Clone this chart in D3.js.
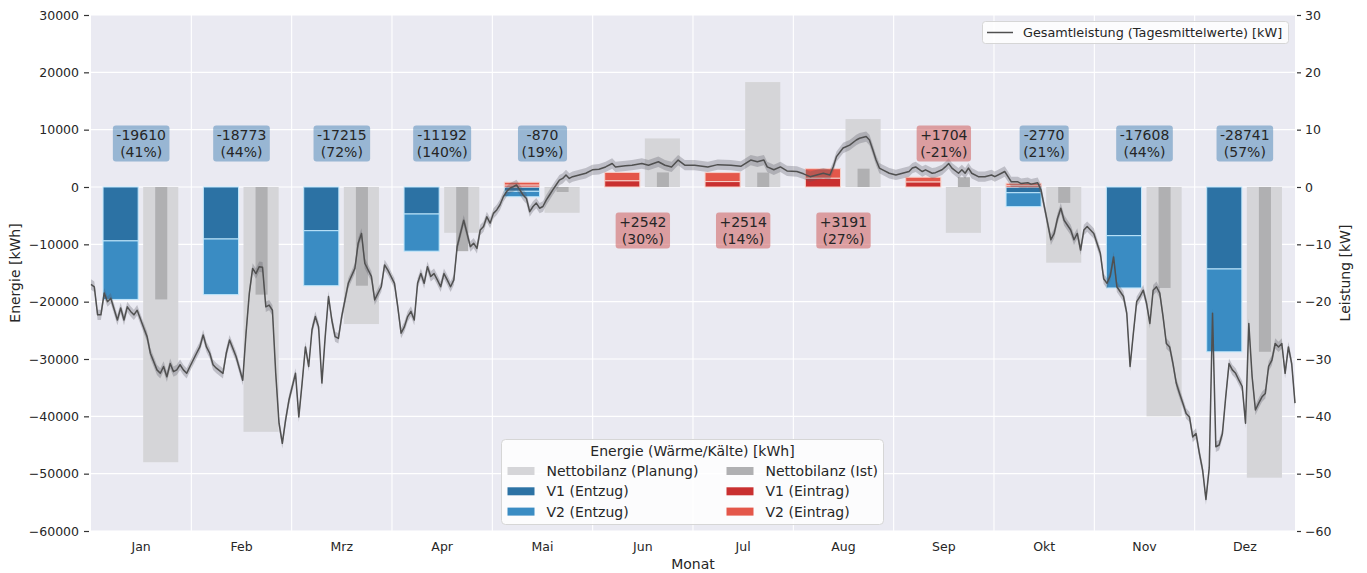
<!DOCTYPE html>
<html><head><meta charset="utf-8">
<script src="https://cdn.jsdelivr.net/npm/d3@7"></script>
<style>
body{margin:0;background:#fff;}
svg{display:block;font-family:"DejaVu Sans",sans-serif;}
</style>
</head><body>
<svg id="chart" width="1367" height="573"></svg>
<script>
// ---------- data ----------
const months = ["Jan","Feb","Mrz","Apr","Mai","Jun","Jul","Aug","Sep","Okt","Nov","Dez"];
const v1Entzug  = [-9400,-9070,-7620,-4710,-750,0,0,0,0,-1000,-8490,-14300];
const v2Entzug  = [-10210,-9703,-9595,-6482,-950,0,0,0,0,-2420,-9118,-14441];
const v1Eintrag = [0,0,0,0,350,1100,950,1550,900,300,0,0];
const v2Eintrag = [0,0,0,0,480,1442,1564,1641,804,350,0,0];
const nettoIst      = [-19610,-18773,-17215,-11192,-870,2542,2514,3191,1704,-2770,-17608,-28741];
const nettoPlanung  = [-48000,-42700,-23900,-7990,-4500,8470,18300,11850,-8000,-13200,-40000,-50700];
const percentPlan   = [41,44,72,140,19,30,14,27,-21,21,44,57];
const energyTicks = [-60000,-50000,-40000,-30000,-20000,-10000,0,10000,20000,30000];
const powerTicks  = [-60,-50,-40,-30,-20,-10,0,10,20,30];

// daily mean total power (kW), sampled day of year
const lineDays = [0,1,2,3,4,5,6,8,9,10,11,12,13,14,16,17,18,20,21,22,23,24,25,26,27,28,29,30,32,33,34,35,36,37,38,40,41,42,44,46,47,48,49,50,51,52,53,54,55,56,57,58,59,60,62,63,64,65,66,67,68,69,70,71,72,73,74,75,76,77,78,80,81,82,83,85,86,88,89,90,92,93,94,95,96,97,98,99,100,101,102,103,104,105,106,107,108,109,110,111,112,113,114,115,116,117,118,119,120,121,122,123,124,125,126,127,128,129,130,131,132,133,134,135,136,137,138,139,140,141,142,143,144,145,146,148,150,152,154,156,158,159,162,164,167,169,172,174,176,178,180,183,187,190,194,197,200,202,204,205,207,209,211,214,216,218,220,222,224,225,226,228,230,232,233,235,236,237,238,239,240,242,244,246,248,249,250,252,253,255,256,258,259,260,261,263,264,265,266,267,269,271,273,274,276,277,278,279,281,282,284,285,287,288,289,290,291,292,293,294,295,297,298,299,300,301,302,303,304,306,307,308,309,310,311,313,314,315,316,317,318,319,320,321,322,323,324,325,326,327,328,329,330,331,332,333,334,335,336,337,338,339,340,341,342,343,344,345,346,347,348,349,350,351,352,353,354,355,356,357,358,359,360,361,362,363,364,365];
const lineKW = [-17,-17.4,-22.3,-22.3,-18.5,-20,-19.4,-23.2,-21.1,-23.2,-20.9,-21.7,-22.3,-21.5,-24.6,-26.1,-29,-31.9,-32.5,-31.3,-33.1,-30.8,-32.2,-31.9,-31,-31.9,-32.5,-31.3,-29,-27.9,-25.8,-27.9,-29,-31,-31.6,-32.5,-29,-26.7,-29.6,-33.7,-25.5,-18.5,-14.2,-15.1,-13.9,-14,-20.9,-20.6,-21.5,-32.5,-41.2,-44.7,-40.6,-37.2,-32.5,-40.1,-34.2,-27.9,-31.3,-24.9,-22.6,-24.4,-34.2,-26.1,-19.1,-23.2,-26.1,-26.4,-22.6,-19.7,-16.8,-14.2,-9.8,-8.1,-13.3,-15.6,-19.7,-17.4,-13.6,-14.5,-16.8,-20.9,-25.5,-24.4,-22.6,-21.7,-23.2,-16.8,-15.1,-16.8,-13.9,-15.6,-15.1,-16.2,-17.4,-15.1,-16.2,-17.4,-16.2,-10.4,-8.1,-5.8,-8.1,-10.4,-9.8,-10.7,-7.5,-6.9,-5.2,-6.3,-4.6,-4,-3.1,-1.7,-0.8,-0.2,0.05,0.35,-0.5,-1.4,-2,-4.3,-3.4,-2.8,-3.7,-3.4,-2.3,-1.4,-0.5,0.35,1.2,1.5,2.1,1.5,1.8,2.1,2.4,3,3.1,3.5,4.1,3.5,3.7,3.8,4.1,3.8,4.4,3.8,3.5,4.7,3.8,3.8,3.5,3.9,3.8,3.6,4.7,4.4,4.7,3.5,3,3.5,2.8,2.7,2.3,1.8,2.1,2.4,2.1,3.5,5.3,6.8,7.3,8.2,8.5,8.8,8.2,6.5,4.7,3.3,3,2.4,2.1,2.4,2.7,3.3,3.5,2.7,3,2.4,2.5,3,3.5,4.1,3.3,2.4,3,2.4,3.3,2.4,1.8,1.8,2.1,1.8,2.4,2.7,1.8,0.9,0.9,0.6,0.75,0.5,0.75,-0.5,-3.4,-6.3,-9.2,-8.1,-5.5,-3.7,-5.8,-7.5,-9.2,-8.1,-11,-7.5,-6.9,-7.5,-8.1,-11.6,-16,-16.8,-15.5,-12.2,-17.4,-19.1,-22,-31.3,-25.5,-20,-19.1,-18,-20.3,-23.8,-18,-17.4,-18.5,-22.6,-27.3,-27.9,-30.8,-34.2,-36,-37.7,-39.5,-40.1,-43.6,-43,-46.4,-49.4,-54.5,-49,-22,-45.3,-45,-43,-36.6,-30.8,-31.9,-32.5,-33.7,-34.8,-41.2,-23.8,-33.1,-38.9,-37.7,-36.6,-36,-31.3,-30.2,-27.3,-27.9,-27.3,-32.5,-27.9,-30.8,-37.7];
const ciHalfWidthKW = 0.9;

// ---------- layout ----------
const W = 1367, H = 573;
const M = {left: 91, right: 1295, top: 15, bottom: 531};
const C = {
  bg: "#eaeaf2", grid: "#ffffff", text: "#262626",
  plan: "#d5d5d8", ist: "#b0b0b2",
  v1Entzug: "#2c72a4", v2Entzug: "#3a8cc3",
  v1Eintrag: "#c93030", v2Eintrag: "#e4574a",
  boxNeg: "rgba(70,130,180,0.5)", boxPos: "rgba(205,92,92,0.55)",
  line: "#505050", band: "rgba(90,90,100,0.3)"
};

const svg = d3.select("#chart");
svg.append("rect").attr("width", W).attr("height", H).attr("fill", "#fff");

const x = d3.scaleBand().domain(months).range([M.left, M.right]).padding(0);
const bw = x.bandwidth();
const xDay = d3.scaleLinear().domain([0, 365]).range([M.left, M.right]);
const y = d3.scaleLinear().domain([-60000, 30000]).range([M.bottom, M.top]);
const yR = d3.scaleLinear().domain([-60, 30]).range([M.bottom, M.top]);

// plot background
svg.append("rect").attr("x", M.left).attr("y", M.top)
  .attr("width", M.right - M.left).attr("height", M.bottom - M.top).attr("fill", C.bg);

// grid
const grid = svg.append("g");
grid.selectAll("line.h").data(energyTicks).join("line")
  .attr("x1", M.left).attr("x2", M.right)
  .attr("y1", d => y(d)).attr("y2", d => y(d))
  .attr("stroke", C.grid).attr("stroke-width", 1.1);
grid.selectAll("line.v").data(months.slice(1)).join("line")
  .attr("x1", d => x(d)).attr("x2", d => x(d))
  .attr("y1", M.top).attr("y2", M.bottom)
  .attr("stroke", C.grid).attr("stroke-width", 1.1);

// planned net balance
const bars = svg.append("g");
bars.selectAll("rect.plan").data(months).join("rect")
  .attr("x", d => x(d) + 0.52 * bw).attr("width", 0.35 * bw)
  .attr("y", (d, i) => y(Math.max(0, nettoPlanung[i])))
  .attr("height", (d, i) => Math.abs(y(nettoPlanung[i]) - y(0)))
  .attr("fill", C.plan);
// actual net balance
bars.selectAll("rect.ist").data(months).join("rect")
  .attr("x", d => x(d) + 0.64 * bw).attr("width", 0.12 * bw)
  .attr("y", (d, i) => y(Math.max(0, nettoIst[i])))
  .attr("height", (d, i) => Math.abs(y(nettoIst[i]) - y(0)))
  .attr("fill", C.ist);

// stacked V1/V2 bars
const segs = [];
months.forEach((m, i) => {
  const push = (from, to, color, edge) => { if (to !== from) segs.push({m, from, to, color, edge}); };
  push(0, v1Entzug[i], C.v1Entzug, "#bfe6fb");
  push(v1Entzug[i], v1Entzug[i] + v2Entzug[i], C.v2Entzug, "#bfe6fb");
  push(0, v1Eintrag[i], C.v1Eintrag, "#f7cfc8");
  push(v1Eintrag[i], v1Eintrag[i] + v2Eintrag[i], C.v2Eintrag, "#f7cfc8");
});
bars.selectAll("rect.seg").data(segs).join("rect")
  .attr("x", d => x(d.m) + 0.12 * bw).attr("width", 0.35 * bw)
  .attr("y", d => y(Math.max(d.from, d.to)))
  .attr("height", d => Math.abs(y(d.to) - y(d.from)))
  .attr("fill", d => d.color)
  .attr("stroke", d => d.edge).attr("stroke-width", 1);

// power line with confidence band
const pts = lineDays.map((d, i) => ({day: d, kw: lineKW[i]}));
svg.append("path").datum(pts)
  .attr("d", d3.area().x(d => xDay(d.day)).y0(d => yR(d.kw - ciHalfWidthKW)).y1(d => yR(d.kw + ciHalfWidthKW)))
  .attr("fill", C.band);
svg.append("path").datum(pts)
  .attr("d", d3.line().x(d => xDay(d.day)).y(d => yR(d.kw)))
  .attr("fill", "none").attr("stroke", C.line).attr("stroke-width", 1.5).attr("stroke-linejoin", "round");

// annotation boxes
const labelOffset = 7600;
const ann = svg.append("g").attr("font-size", "14px").attr("fill", C.text);
months.forEach((m, i) => {
  const cx = x(m) + bw / 2;
  const cy = y(nettoPlanung[i] < 0 ? labelOffset : -labelOffset);
  const g = ann.append("g");
  const rect = g.append("rect");
  const t1 = g.append("text").attr("x", cx).attr("y", cy - 8.3).attr("text-anchor", "middle")
    .attr("dominant-baseline", "central")
    .text((nettoIst[i] > 0 ? "+" : "") + nettoIst[i]);
  const t2 = g.append("text").attr("x", cx).attr("y", cy + 8.3).attr("text-anchor", "middle")
    .attr("dominant-baseline", "central")
    .text("(" + percentPlan[i] + "%)");
  const w = Math.max(t1.node().getComputedTextLength(), t2.node().getComputedTextLength()) + 7;
  rect.attr("x", cx - w / 2).attr("y", cy - 18).attr("width", w).attr("height", 36)
    .attr("rx", 3).attr("fill", nettoIst[i] < 0 ? C.boxNeg : C.boxPos);
});

// axes
const fmt = d => d < 0 ? "\u2212" + Math.abs(d) : String(d);
const axL = svg.append("g").attr("transform", `translate(${M.left - 2},0)`)
  .call(d3.axisLeft(y).tickValues(energyTicks).tickSize(5).tickPadding(5).tickFormat(fmt));
const axR = svg.append("g").attr("transform", `translate(${M.right + 2},0)`)
  .call(d3.axisRight(yR).tickValues(powerTicks).tickSize(4).tickPadding(4).tickFormat(fmt));
const axB = svg.append("g").attr("transform", `translate(0,${M.bottom})`)
  .call(d3.axisBottom(x).tickSize(0).tickPadding(11));
[axL, axR, axB].forEach(a => {
  a.select(".domain").remove();
  a.selectAll("text").attr("font-size", "12.5px").attr("fill", C.text).attr("font-family", "DejaVu Sans");
  a.selectAll("line").attr("stroke", "#333").attr("stroke-width", 1.2);
});

svg.append("text").attr("x", (M.left + M.right) / 2).attr("y", 569).attr("text-anchor", "middle")
  .attr("font-size", "14px").attr("fill", C.text).text("Monat");
svg.append("text").attr("transform", `translate(20,${(M.top + M.bottom) / 2}) rotate(-90)`)
  .attr("text-anchor", "middle").attr("font-size", "14px").attr("fill", C.text).text("Energie [kWh]");
svg.append("text").attr("transform", `translate(1350,${(M.top + M.bottom) / 2}) rotate(-90)`)
  .attr("text-anchor", "middle").attr("font-size", "14px").attr("fill", C.text).text("Leistung [kW]");

// top-right legend
const lg1 = svg.append("g");
lg1.append("rect").attr("x", 982.5).attr("y", 21.5).attr("width", 306).attr("height", 22).attr("rx", 3)
  .attr("fill", "rgba(255,255,255,0.85)").attr("stroke", "#d6d6d6");
lg1.append("line").attr("x1", 987).attr("x2", 1013).attr("y1", 32.5).attr("y2", 32.5)
  .attr("stroke", C.line).attr("stroke-width", 1.5);
lg1.append("text").attr("x", 1023).attr("y", 32.5).attr("dominant-baseline", "central")
  .attr("font-size", "12.8px").attr("fill", C.text).text("Gesamtleistung (Tagesmittelwerte) [kW]");

// bottom legend
const legendItems = [
  {label: "Nettobilanz (Planung)", color: C.plan, col: 0, row: 0},
  {label: "V1 (Entzug)", color: C.v1Entzug, col: 0, row: 1},
  {label: "V2 (Entzug)", color: C.v2Entzug, col: 0, row: 2},
  {label: "Nettobilanz (Ist)", color: C.ist, col: 1, row: 0},
  {label: "V1 (Eintrag)", color: C.v1Eintrag, col: 1, row: 1},
  {label: "V2 (Eintrag)", color: C.v2Eintrag, col: 1, row: 2}
];
const lg2 = svg.append("g");
lg2.append("rect").attr("x", 501.5).attr("y", 439.5).attr("width", 382).attr("height", 85).attr("rx", 4)
  .attr("fill", "rgba(255,255,255,0.85)").attr("stroke", "#d6d6d6");
lg2.append("text").attr("x", 692.5).attr("y", 451).attr("text-anchor", "middle").attr("dominant-baseline", "central")
  .attr("font-size", "14px").attr("fill", C.text).text("Energie (Wärme/Kälte) [kWh]");
const colX = [507.5, 726.5], rowY = [471, 491.3, 511.6];
const li = lg2.selectAll("g.item").data(legendItems).join("g");
li.append("rect").attr("x", d => colX[d.col]).attr("y", d => rowY[d.row] - 4).attr("width", 27).attr("height", 8)
  .attr("fill", d => d.color);
li.append("text").attr("x", d => colX[d.col] + 39).attr("y", d => rowY[d.row]).attr("dominant-baseline", "central")
  .attr("font-size", "14px").attr("fill", C.text).text(d => d.label);
</script>
</body></html>
